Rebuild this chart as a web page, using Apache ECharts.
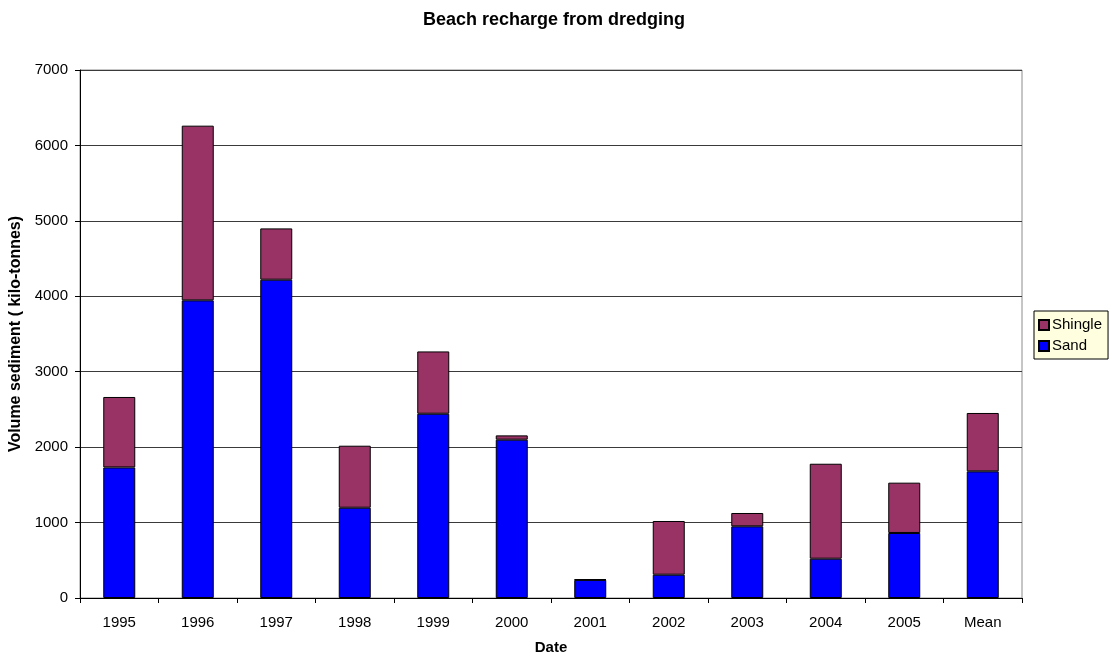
<!DOCTYPE html>
<html>
<head>
<meta charset="utf-8">
<script src="https://cdn.jsdelivr.net/npm/echarts@6/dist/echarts.min.js"></script>
<style>
html,body{margin:0;padding:0;background:#fff;}
#chart{width:1112px;height:657px;}
</style>
</head>
<body>
<div id="chart"></div>
<script>
const categories = ['1995','1996','1997','1998','1999','2000','2001','2002','2003','2004','2005','Mean'];
const sand = [1731, 3946, 4220, 1197, 2443, 2099, 240, 309, 950, 521, 862, 1679];
const shingle = [934, 2316, 680, 822, 826, 57, 8, 712, 177, 1259, 667, 774];
const yTicks = { min: 0, max: 7000, interval: 1000 };

const chart = echarts.init(document.getElementById('chart'), null, { renderer: 'canvas' });
const font = 'Liberation Sans, Arial, sans-serif';
chart.setOption({
  animation: false,
  backgroundColor: '#ffffff',
  title: {
    text: 'Beach recharge from dredging',
    left: 549, top: 6, textAlign: 'center',
    textStyle: { fontFamily: font, fontSize: 18, fontWeight: 'bold', color: '#000' }
  },
  legend: {
    data: ['Shingle', 'Sand'],
    orient: 'vertical',
    left: 1034, top: 311,
    itemWidth: 10, itemHeight: 10, itemGap: 5,
    padding: [6, 6, 5, 4],
    backgroundColor: '#FFFFE0',
    borderColor: '#000', borderWidth: 1, borderRadius: 0,
    icon: 'rect',
    textStyle: { fontFamily: font, fontSize: 15, color: '#000', padding: [0, 0, 0, -2], lineHeight: 16 }
  },
  grid: {
    left: 80, right: 90, top: 70, bottom: 59,
    outerBoundsMode: 'none', containLabel: false,
    show: true, borderColor: '#8c8c8c', borderWidth: 1, backgroundColor: '#fff'
  },
  xAxis: {
    type: 'category',
    data: categories,
    name: 'Date', nameLocation: 'middle', nameGap: 42,
    nameTextStyle: { fontFamily: font, fontSize: 15, fontWeight: 'bold', color: '#000' },
    axisLine: { lineStyle: { color: '#000', width: 1 } },
    axisTick: { show: true, interval: 0, length: 5, lineStyle: { color: '#000' } },
    axisLabel: { fontFamily: font, fontSize: 15, color: '#000', margin: 17, interval: 0 }
  },
  yAxis: {
    type: 'value',
    min: yTicks.min, max: yTicks.max, interval: yTicks.interval,
    name: 'Volume sediment ( kilo-tonnes)', nameLocation: 'middle', nameGap: 56,
    nameTextStyle: { fontFamily: font, fontSize: 16, fontWeight: 'bold', color: '#000' },
    axisLine: { show: true, lineStyle: { color: '#000', width: 1 } },
    axisTick: { show: true, length: 5, lineStyle: { color: '#000' } },
    axisLabel: { fontFamily: font, fontSize: 15, color: '#000', margin: 12, formatter: v => String(v) },
    splitLine: { show: true, lineStyle: { color: '#3a3a3a', width: 1 } }
  },
  series: [
    {
      name: 'Sand', type: 'bar', stack: 'total', data: sand, barWidth: 32,
      itemStyle: { color: '#0000FF', borderColor: '#000', borderWidth: 1 }
    },
    {
      name: 'Shingle', type: 'bar', stack: 'total', data: shingle, barWidth: 32,
      itemStyle: { color: '#993366', borderColor: '#000', borderWidth: 1 }
    }
  ]
});
</script>
</body>
</html>
